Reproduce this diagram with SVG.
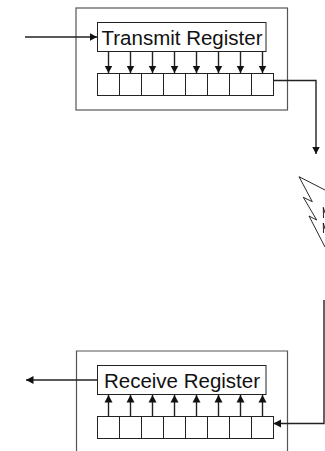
<svg xmlns="http://www.w3.org/2000/svg" width="325" height="451" viewBox="0 0 325 451">
<style>
.o{fill:none;stroke:#555;stroke-width:1.2}
.r{fill:#fff;stroke:#222;stroke-width:1}
.l{fill:none;stroke:#222;stroke-width:1.400}
.t{fill:none;stroke:#111;stroke-width:.9}
text{font-family:"Liberation Sans",Arial,sans-serif;font-size:20.500px;fill:#111;text-anchor:middle}
</style>
<defs>
<marker id="a" markerUnits="userSpaceOnUse" markerWidth="10" markerHeight="10" refX="7.500" refY="5" orient="auto"><path d="M0 1L7.500 5L0 9z" fill="#111"/></marker>
<g id="cells"><rect class="r" width="22" height="22"/><rect class="r" x="22" width="22" height="22"/><rect class="r" x="44" width="22" height="22"/><rect class="r" x="66" width="22" height="22"/><rect class="r" x="88" width="22" height="22"/><rect class="r" x="110" width="22" height="22"/><rect class="r" x="132" width="22" height="22"/><rect class="r" x="154" width="22" height="22"/></g>
</defs>
<g id="transmit-box"><rect class="o" x="76" y="8" width="211.500" height="102"/></g>
<g id="receive-box"><path class="o" d="M76.500 451V351H287.500V451"/></g>
<g id="transmit-register"><rect class="r" x="97.500" y="22.500" width="168.500" height="29"/><text x="182" y="45">Transmit Register</text></g>
<g id="transmit-cells"><use href="#cells" x="97.500" y="73.500"/></g>
<g id="receive-register"><rect class="r" x="97.500" y="365.500" width="168.500" height="29"/><text x="182" y="388">Receive Register</text></g>
<g id="receive-cells"><use href="#cells" x="97.500" y="416.500"/></g>
<g id="lightning"><path class="t" d="M299 176.700L325 190M299 176.700L312.300 201.700L303.300 197.300L316.700 220L309 216L325 247M323.300 207.300L325 213M323.300 207.300L323.500 218M323.300 223L325 229M323.300 223L323.500 233"/></g>
<g id="connectors">
<path class="l" marker-end="url(#a)" d="M25 37H97"/>
<path class="l" marker-end="url(#a)" d="M273 80.500H316V154"/>
<path class="l" marker-end="url(#a)" d="M97 380H26"/>
<path class="l" marker-end="url(#a)" d="M324 300V423.500H273.500"/>
<path class="l" marker-end="url(#a)" d="M108.500 52V73"/><path class="l" marker-end="url(#a)" d="M130.500 52V73"/><path class="l" marker-end="url(#a)" d="M152.500 52V73"/><path class="l" marker-end="url(#a)" d="M174.500 52V73"/><path class="l" marker-end="url(#a)" d="M196.500 52V73"/><path class="l" marker-end="url(#a)" d="M218.500 52V73"/><path class="l" marker-end="url(#a)" d="M240.500 52V73"/><path class="l" marker-end="url(#a)" d="M262.500 52V73"/>
<path class="l" marker-end="url(#a)" d="M108.500 416V395"/><path class="l" marker-end="url(#a)" d="M130.500 416V395"/><path class="l" marker-end="url(#a)" d="M152.500 416V395"/><path class="l" marker-end="url(#a)" d="M174.500 416V395"/><path class="l" marker-end="url(#a)" d="M196.500 416V395"/><path class="l" marker-end="url(#a)" d="M218.500 416V395"/><path class="l" marker-end="url(#a)" d="M240.500 416V395"/><path class="l" marker-end="url(#a)" d="M262.500 416V395"/>
</g>
</svg>
